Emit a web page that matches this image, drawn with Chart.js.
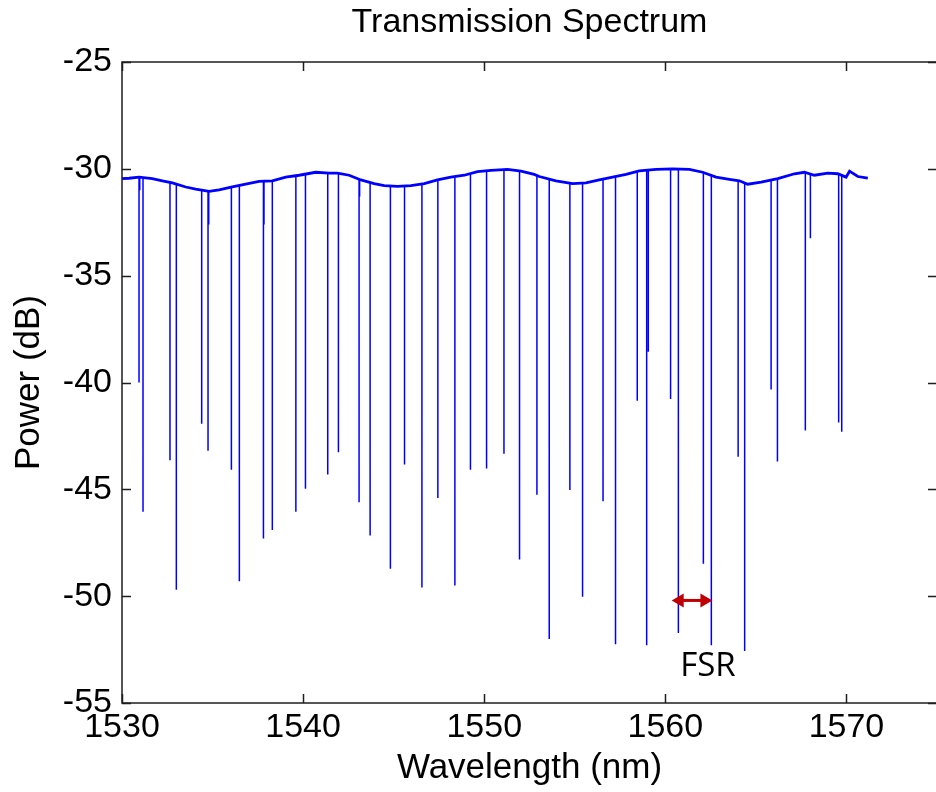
<!DOCTYPE html>
<html>
<head>
<meta charset="utf-8">
<script src="https://cdn.jsdelivr.net/npm/chart.js@4.4.1/dist/chart.umd.min.js"></script>
<style>
  html, body { margin: 0; padding: 0; background: #fff; overflow: hidden; }
  #wrap { width: 940px; height: 792px; position: relative; }
</style>
</head>
<body>
<div id="wrap"><canvas id="c"></canvas></div>
<script>
// ---- Text ----
const chartTitle = 'Transmission Spectrum';
const xTitle = 'Wavelength (nm)';
const yTitle = 'Power (dB)';
const fsrLabel = 'FSR';

// ---- Axis ticks ----
const xTickVals = [1530, 1540, 1550, 1560, 1570];
const xTickLabels = ['1530', '1540', '1550', '1560', '1570'];
const yTickVals = [-55, -50, -45, -40, -35, -30, -25];
const yTickLabels = ['-55', '-50', '-45', '-40', '-35', '-30', '-25'];

// ---- Transmission baseline (wavelength nm, power dB) ----
const baseWl = [1530.0, 1530.39, 1530.94, 1531.67, 1532.23, 1532.78, 1533.52, 1534.07, 1534.81, 1535.36,
  1536.09, 1536.83, 1537.57, 1538.30, 1539.04, 1539.78, 1540.70, 1541.44, 1541.90, 1542.54,
  1543.19, 1543.92, 1544.48, 1545.21, 1545.95, 1546.69, 1547.42, 1548.16, 1548.90, 1549.63,
  1550.37, 1551.29, 1552.03, 1552.76, 1553.04, 1553.96, 1554.88, 1555.62, 1556.35, 1557.09,
  1557.83, 1558.56, 1559.49, 1560.40, 1561.33, 1562.06, 1562.80, 1563.54, 1564.09, 1564.55,
  1565.29, 1566.21, 1567.13, 1567.68, 1568.23, 1568.97, 1569.52, 1569.98, 1570.17, 1570.63, 1571.18];
const basePow = [-30.46, -30.44, -30.39, -30.46, -30.56, -30.66, -30.85, -30.95, -31.05, -30.98,
  -30.85, -30.72, -30.59, -30.56, -30.39, -30.30, -30.16, -30.20, -30.20, -30.30,
  -30.52, -30.69, -30.79, -30.82, -30.79, -30.69, -30.52, -30.39, -30.30, -30.13,
  -30.07, -30.03, -30.11, -30.26, -30.36, -30.56, -30.69, -30.66, -30.52, -30.39,
  -30.26, -30.10, -30.03, -30.00, -30.03, -30.16, -30.39, -30.49, -30.56, -30.72,
  -30.62, -30.46, -30.23, -30.16, -30.30, -30.20, -30.23, -30.39, -30.11, -30.36, -30.44];

// ---- Resonance notches: wavelength, level at top, minimum power ----
const notchWl = [1530.94, 1530.98, 1531.16, 1532.65, 1533.00, 1534.40, 1534.75, 1534.79, 1536.04, 1536.48,
  1537.81, 1537.84, 1538.30, 1539.60, 1540.13, 1541.36, 1541.95, 1543.09, 1543.12, 1543.70,
  1544.82, 1545.60, 1546.56, 1547.44, 1548.38, 1549.24, 1550.13, 1551.09, 1551.95, 1552.91,
  1553.59, 1554.73, 1555.43, 1556.56, 1557.25, 1558.45, 1558.97, 1559.06, 1560.29, 1560.72,
  1562.10, 1562.54, 1564.02, 1564.38, 1565.84, 1566.19, 1567.73, 1568.01, 1569.57, 1569.74];
const notchTop = [-30.40, -30.40, -30.42, -30.62, -30.70, -30.98, -31.02, -31.02, -30.88, -30.78,
  -30.60, -30.60, -30.56, -30.35, -30.25, -30.20, -30.22, -30.50, -30.50, -30.65,
  -30.78, -30.81, -30.70, -30.52, -30.36, -30.20, -30.09, -30.04, -30.10, -30.32,
  -30.45, -30.67, -30.68, -30.48, -30.37, -30.14, -30.05, -30.05, -30.00, -30.01,
  -30.15, -30.30, -30.55, -30.68, -30.56, -30.46, -30.16, -30.22, -30.22, -30.28];
const notchMin = [-40.0, -31.0, -46.05, -43.64, -49.7, -41.93, -43.2, -32.6, -44.08, -49.3,
  -47.3, -32.6, -46.9, -46.05, -44.97, -44.3, -43.26, -45.6, -31.3, -47.16,
  -48.72, -43.84, -49.6, -45.4, -49.5, -44.08, -44.02, -43.34, -48.28, -45.25,
  -52.0, -45.03, -50.03, -45.56, -52.25, -40.85, -52.3, -38.56, -40.77, -51.72,
  -48.48, -52.3, -43.48, -52.57, -40.33, -43.7, -42.25, -33.25, -41.87, -42.3];

// ---- FSR annotation (data coordinates) ----
const fsrArrowWl = [1560.35, 1562.6];
const fsrArrowPow = -50.2;
const fsrLabelWl = 1562.35;
const fsrLabelPow = -53.3;

const FONT = '"Liberation Sans", Arial, Helvetica, sans-serif';

const framePlugin = {
  id: 'matlabFrame',
  afterDatasetsDraw(chart) {
    const {ctx, scales: {x, y}} = chart;
    const x1 = x.getPixelForValue(fsrArrowWl[0]);
    const x2 = x.getPixelForValue(fsrArrowWl[1]);
    const ya = y.getPixelForValue(fsrArrowPow);
    const hl = 12, hw = 7;
    ctx.save();
    ctx.strokeStyle = '#c00000';
    ctx.fillStyle = '#c00000';
    ctx.lineWidth = 3;
    ctx.beginPath();
    ctx.moveTo(x1 + hl - 2, ya); ctx.lineTo(x2 - hl + 2, ya); ctx.stroke();
    ctx.beginPath();
    ctx.moveTo(x1, ya); ctx.lineTo(x1 + hl, ya - hw); ctx.lineTo(x1 + hl, ya + hw); ctx.closePath(); ctx.fill();
    ctx.beginPath();
    ctx.moveTo(x2, ya); ctx.lineTo(x2 - hl, ya - hw); ctx.lineTo(x2 - hl, ya + hw); ctx.closePath(); ctx.fill();
    ctx.fillStyle = '#000';
    ctx.font = '33px "Open Sans", "Noto Sans", sans-serif';
    ctx.textAlign = 'center';
    ctx.textBaseline = 'middle';
    ctx.fillText(fsrLabel, x.getPixelForValue(fsrLabelWl), y.getPixelForValue(fsrLabelPow));
    ctx.restore();
  },
  afterDraw(chart) {
    const {ctx, chartArea: a, scales: {x, y}} = chart;
    ctx.save();
    ctx.strokeStyle = '#1e1e1e';
    ctx.lineWidth = 1.5;
    ctx.strokeRect(a.left, a.top, a.right - a.left, a.bottom - a.top);
    const tl = 9;
    ctx.beginPath();
    xTickVals.forEach(v => {
      const px = Math.round(x.getPixelForValue(v)) + 0.5;
      ctx.moveTo(px, a.bottom); ctx.lineTo(px, a.bottom - tl);
      ctx.moveTo(px, a.top); ctx.lineTo(px, a.top + tl);
    });
    yTickVals.forEach(v => {
      const py = Math.round(y.getPixelForValue(v)) + 0.5;
      ctx.moveTo(a.left, py); ctx.lineTo(a.left + tl, py);
      ctx.moveTo(a.right, py); ctx.lineTo(a.right - tl, py);
    });
    ctx.stroke();
    ctx.fillStyle = '#000';
    ctx.font = '34px ' + FONT;
    ctx.textAlign = 'center';
    ctx.textBaseline = 'middle';
    ctx.fillText(chartTitle, (a.left + a.right) / 2, 22.5);
    ctx.restore();
  }
};

new Chart(document.getElementById('c'), {
  type: 'line',
  data: {
    datasets: [
      {
        label: 'Transmission',
        data: baseWl.map((w, i) => ({x: w, y: basePow[i]})),
        borderColor: '#0000ff',
        borderWidth: 2.8,
        pointRadius: 0,
        tension: 0,
        fill: false
      },
      {
        label: 'Resonances',
        data: notchWl.flatMap((w, i) => [{x: w, y: notchTop[i]}, {x: w, y: notchMin[i]}, {x: w, y: null}]),
        borderColor: '#0000ff',
        borderWidth: 1.5,
        pointRadius: 0,
        tension: 0,
        spanGaps: false,
        fill: false
      }
    ]
  },
  options: {
    responsive: true,
    maintainAspectRatio: false,
    animation: false,
    layout: {padding: {left: 0, right: 3, top: 62, bottom: 0}},
    plugins: {
      legend: {display: false},
      tooltip: {enabled: false},
      title: {display: false}
    },
    scales: {
      x: {
        type: 'linear',
        min: 1530,
        max: 1575,
        afterBuildTicks: s => { s.ticks = xTickVals.map(v => ({value: v})); },
        afterFit: s => { s.height = 89; },
        ticks: {
          callback: v => xTickLabels[xTickVals.indexOf(v)],
          color: '#000',
          font: {family: FONT, size: 34},
          padding: 4,
          maxRotation: 0,
          autoSkip: false
        },
        grid: {display: false, drawTicks: false},
        border: {display: false},
        title: {
          display: true, text: xTitle, color: '#000',
          font: {family: FONT, size: 35}, padding: {top: 0, bottom: 3}
        }
      },
      y: {
        type: 'linear',
        min: -55,
        max: -25,
        afterBuildTicks: s => { s.ticks = yTickVals.map(v => ({value: v})); },
        afterFit: s => { s.width = 122; },
        ticks: {
          callback: v => yTickLabels[yTickVals.indexOf(v)],
          color: '#000',
          font: {family: FONT, size: 34},
          padding: 10,
          autoSkip: false
        },
        grid: {display: false, drawTicks: false},
        border: {display: false},
        title: {
          display: true, text: yTitle, color: '#000',
          font: {family: FONT, size: 35}, padding: {top: 8, bottom: 0}
        }
      }
    }
  },
  plugins: [framePlugin]
});
</script>
</body>
</html>
